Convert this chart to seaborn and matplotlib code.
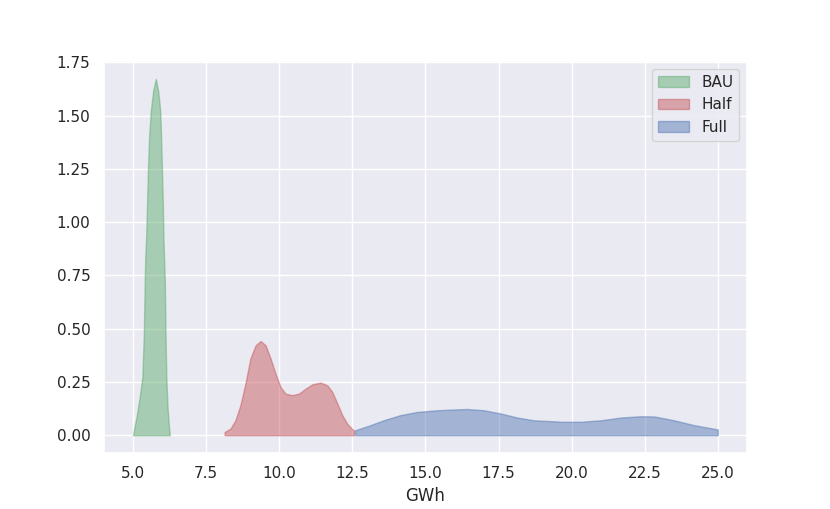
import matplotlib
matplotlib.use("Agg")
import matplotlib.pyplot as plt
import seaborn as sns

sns.set_theme(style="darkgrid")
palette = sns.color_palette("deep")

# density curves (GWh vs density)
bau_x = [5.01, 5.13, 5.24, 5.33, 5.38, 5.41, 5.43, 5.46, 5.49, 5.52, 5.56, 5.62,
         5.70, 5.79, 5.87, 5.94, 5.97, 6.00, 6.03, 6.05, 6.07, 6.10, 6.12, 6.15,
         6.19, 6.24, 6.27]
bau_y = [0.00, 0.086, 0.180, 0.273, 0.477, 0.711, 0.840, 0.930, 1.086, 1.242, 1.399, 1.524,
         1.617, 1.672, 1.617, 1.524, 1.399, 1.242, 1.086, 0.930, 0.840, 0.711, 0.477, 0.273,
         0.133, 0.039, 0.00]

half_x = [8.14, 8.14, 8.34, 8.51, 8.68, 8.85, 9.02, 9.20, 9.37, 9.54, 9.71, 9.88,
          10.05, 10.22, 10.45, 10.68, 10.91, 11.14, 11.42, 11.65, 11.82, 11.99,
          12.16, 12.34, 12.51, 12.56]
half_y = [0.00, 0.015, 0.031, 0.070, 0.141, 0.242, 0.360, 0.422, 0.442, 0.422, 0.360, 0.289,
          0.226, 0.195, 0.188, 0.195, 0.219, 0.239, 0.247, 0.234, 0.203, 0.149,
          0.094, 0.052, 0.027, 0.023]

full_x = [12.60, 13.12, 13.57, 14.14, 14.71, 15.40, 15.85, 16.43, 17.00, 17.57,
          18.14, 18.71, 19.28, 19.70, 20.31, 20.99, 21.68, 22.36, 22.82, 23.50,
          24.19, 24.99]
full_y = [0.023, 0.047, 0.070, 0.094, 0.109, 0.117, 0.120, 0.123, 0.117, 0.102,
          0.083, 0.070, 0.066, 0.063, 0.063, 0.070, 0.083, 0.089, 0.088, 0.070,
          0.047, 0.027]

series = [("BAU", bau_x, bau_y, palette[2]),
          ("Half", half_x, half_y, palette[3]),
          ("Full", full_x, full_y, palette[0])]

fig, ax = plt.subplots(figsize=(8.3, 5.09), dpi=100)
for name, xs, ys, c in series:
    ax.fill_between(xs, ys, 0, color=c, alpha=0.45, lw=1, label=name)

ax.set_xticks([5.0, 7.5, 10.0, 12.5, 15.0, 17.5, 20.0, 22.5, 25.0])
ax.set_yticks([0.0, 0.25, 0.5, 0.75, 1.0, 1.25, 1.5, 1.75])
ax.set_xlabel("GWh")
ax.legend(loc="upper right")

fig.savefig("out.png")
